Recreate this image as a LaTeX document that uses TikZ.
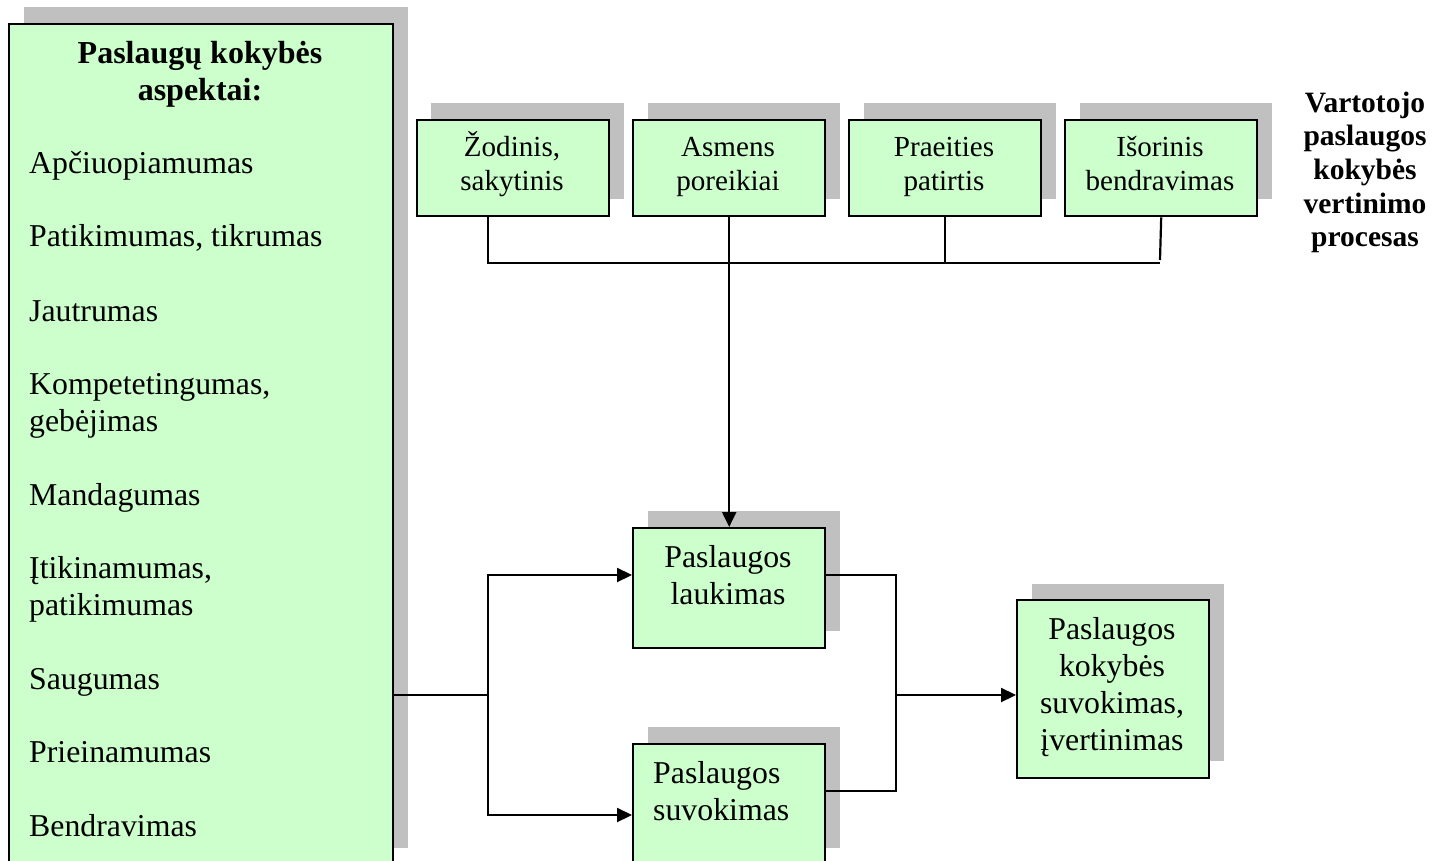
\documentclass[tikz,border=0pt]{standalone}
\usepackage{fontspec}
\setmainfont{Liberation Serif}
\usetikzlibrary{arrows.meta}
\definecolor{boxgreen}{HTML}{CCFFCC}
\definecolor{shadowgray}{HTML}{C0C0C0}

\begin{document}
\begin{tikzpicture}[x=1pt,y=-1pt,
  panel/.style={draw=black, line width=2.4pt, fill=boxgreen, inner sep=0pt, anchor=north west},
  smallbox/.style={panel, minimum width=192pt, minimum height=96pt},
  dropshadow/.style={fill=shadowgray},
  wire/.style={line width=2.2pt},
  arrow/.style={wire, -{Triangle[length=15pt,width=14pt]}},
  bigtxt/.style={font=\fontsize{31.8}{37}\selectfont, inner sep=0pt},
  midtxt/.style={font=\fontsize{29.1}{34}\selectfont, inner sep=0pt},
  headtxt/.style={font=\fontsize{32}{37}\selectfont\bfseries, inner sep=0pt},
  sidetxt/.style={font=\fontsize{29.5}{33.7}\selectfont\bfseries, inner sep=0pt}]
\useasboundingbox (0,0) rectangle (1438,861);
\clip (0,0) rectangle (1438,861);

% drop shadows
\fill[dropshadow] (24,7) rectangle (408,848);
\fill[dropshadow] (431,103) rectangle ++(193,96);
\fill[dropshadow] (648,103) rectangle ++(192,96);
\fill[dropshadow] (864,103) rectangle ++(192,96);
\fill[dropshadow] (1080,103) rectangle ++(192,96);
\fill[dropshadow] (648,511) rectangle (840,631);
\fill[dropshadow] (648,727) rectangle (840,848);
\fill[dropshadow] (1032,584) rectangle (1224,761);

% boxes
\node[panel, minimum width=384pt, minimum height=860pt] (asp) at (8,23) {};
\node[smallbox] (zod) at (416,119) {};
\node[smallbox] (asm) at (632,119) {};
\node[smallbox] (pra) at (848,119) {};
\node[smallbox] (iso) at (1064,119) {};
\node[panel, minimum width=192pt, minimum height=120pt] (lauk) at (632,527) {};
\node[panel, minimum width=192pt, minimum height=140pt] (suv) at (632,743) {};
\node[panel, minimum width=192pt, minimum height=178pt] (res) at (1016,599) {};

% aspects list (multi-line texts are placed by the baseline of their last line)
\node[headtxt, anchor=base, align=center] (aspT) at (200,101) {Paslaugų kokybės\\aspektai:};
\node[bigtxt, anchor=base west] (a1) at (29,174) {Apčiuopiamumas};
\node[bigtxt, anchor=base west] (a2) at (29,247) {Patikimumas, tikrumas};
\node[bigtxt, anchor=base west] (a3) at (29,321) {Jautrumas};
\node[bigtxt, anchor=base west, align=left] (a4) at (29,431) {Kompetetingumas,\\gebėjimas};
\node[bigtxt, anchor=base west] (a5) at (29,505) {Mandagumas};
\node[bigtxt, anchor=base west, align=left] (a6) at (29,615) {Įtikinamumas,\\patikimumas};
\node[bigtxt, anchor=base west] (a7) at (29,689) {Saugumas};
\node[bigtxt, anchor=base west] (a8) at (29,762) {Prieinamumas};
\node[bigtxt, anchor=base west] (a9) at (29,836) {Bendravimas};

% box texts
\node[midtxt, anchor=base, align=center] (zodT) at (512,191) {Žodinis,\\sakytinis};
\node[midtxt, anchor=base, align=center] (asmT) at (728,191) {Asmens\\poreikiai};
\node[midtxt, anchor=base, align=center] (praT) at (944,191) {Praeities\\patirtis};
\node[midtxt, anchor=base, align=center] (isoT) at (1160,191) {Išorinis\\bendravimas};
\node[bigtxt, anchor=base, align=center] (laukT) at (728,604) {Paslaugos\\laukimas};
\node[bigtxt, anchor=base west, align=left] (suvT) at (653,820) {Paslaugos\\suvokimas};
\node[bigtxt, anchor=base, align=center] (resT) at (1112,750) {Paslaugos\\kokybės\\suvokimas,\\įvertinimas};
\node[sidetxt, anchor=base, align=center] (side) at (1365,247) {Vartotojo\\paslaugos\\kokybės\\vertinimo\\procesas};

% junction points
\coordinate (busL) at (488,263);
\coordinate (busR) at (1160,263);
\coordinate (split) at (488,695);
\coordinate (laukIn) at (632,575);
\coordinate (suvIn) at (632,815);
\coordinate (laukOut) at (824,575);
\coordinate (suvOut) at (824,791);
\coordinate (join) at (896,695);
\coordinate (resIn) at (1016,695);

% connectors
\draw[wire] (zod.south -| busL) -- (busL) -- (busR);
\draw[wire] (pra.south) -- (pra.south |- busL);
\draw[wire] (iso.south) -- ([yshift=3pt]busR);
\draw[arrow] (asm.south) -- (lauk.north);
\draw[wire] (asp.east |- split) -- (split);
\draw[arrow] (split) |- (laukIn);
\draw[arrow] (split) |- (suvIn);
\draw[wire] (laukOut) -| (join) |- (suvOut);
\draw[arrow] (join) -- (resIn);
\end{tikzpicture}
\end{document}
